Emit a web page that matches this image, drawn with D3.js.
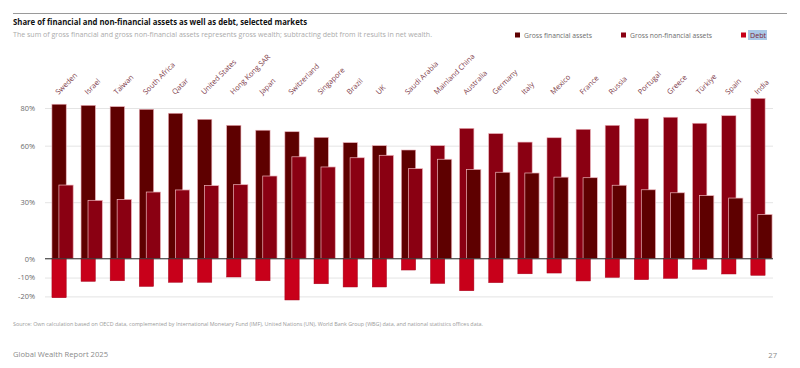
<!DOCTYPE html>
<html>
<head>
<meta charset="utf-8">
<script src="https://cdn.jsdelivr.net/npm/d3@7"></script>
<style>
  html, body { margin: 0; padding: 0; background: #fff; }
  svg { display: block; font-family: "Open Sans", "Noto Sans", sans-serif; }
</style>
</head>
<body>
<svg id="chart" width="800" height="368"></svg>
<script>
// ---- Data (shares of net wealth, %) ----
const categories = ["Sweden","Israel","Taiwan","South Africa","Qatar","United States","Hong Kong SAR","Japan","Switzerland","Singapore","Brazil","UK","Saudi Arabia","Mainland China","Australia","Germany","Italy","Mexico","France","Russia","Portugal","Greece","Türkiye","Spain","India"];
const financial = [82.0,81.4,80.7,79.3,77.2,74.0,70.8,68.2,67.4,64.4,61.6,60.0,57.7,52.8,47.4,45.9,45.5,43.3,43.0,39.0,36.6,35.0,33.5,32.2,23.5];
const nonFinancial = [39.1,31.0,31.5,35.4,36.5,38.8,39.3,43.9,54.1,48.7,53.6,54.9,47.8,60.0,69.2,66.4,61.9,64.2,68.7,70.8,74.3,75.1,71.9,75.9,85.1];
const debt = [-20.7,-12.0,-11.7,-14.7,-12.5,-12.5,-9.7,-11.7,-21.9,-13.3,-15.0,-15.0,-6.0,-13.1,-17.0,-12.7,-8.0,-7.6,-11.8,-9.9,-11.1,-10.4,-5.6,-8.1,-8.8];
const yTicks = [80, 60, 30, 0, -10, -20];
const seriesNames = ["Gross financial assets", "Gross non-financial assets", "Debt"];

// ---- Styles ----
const colFin = "#5e0000", colNon = "#8a0012", colDebt = "#c8001a";
const svg = d3.select("#chart");

// Header
svg.append("line").attr("x1", 13).attr("x2", 787).attr("y1", 13.5).attr("y2", 13.5)
  .attr("stroke", "#9a9a9a").attr("stroke-width", 1);
svg.append("text").attr("x", 13).attr("y", 25).attr("font-size", 8.6).attr("font-weight", 700)
  .attr("fill", "#111").attr("textLength", 294).attr("lengthAdjust", "spacingAndGlyphs")
  .text("Share of financial and non-financial assets as well as debt, selected markets");
svg.append("text").attr("x", 13).attr("y", 37).attr("font-size", 7.4)
  .attr("fill", "#ababab").attr("textLength", 419).attr("lengthAdjust", "spacingAndGlyphs")
  .text("The sum of gross financial and gross non-financial assets represents gross wealth; subtracting debt from it results in net wealth.");

// Legend
const legendX = [515, 621, 741], legendW = [68, 82, 16], legendCols = [colFin, colNon, colDebt];
// selection highlight behind "Debt" (as in reference)
svg.append("rect").attr("x", 748).attr("y", 30).attr("width", 19).attr("height", 10).attr("fill", "#aac8e6");
seriesNames.forEach((n, i) => {
  svg.append("rect").attr("x", legendX[i]).attr("y", 32.5).attr("width", 5).attr("height", 5).attr("fill", legendCols[i]);
  svg.append("text").attr("x", legendX[i] + 9).attr("y", 38).attr("font-size", 7.2)
    .attr("fill", i === 2 ? "#7a2636" : "#6e6e6e")
    .attr("textLength", legendW[i]).attr("lengthAdjust", "spacingAndGlyphs").text(n);
});

// Scales
const x = d3.scaleBand().domain(categories).range([48, 776]).paddingInner(0.27).paddingOuter(0.135);
const y = d3.scaleLinear().domain([-20, 80]).range([296.4, 108]);
const bw = x.bandwidth();
const barW = bw * 0.672, offset = bw - barW;

// Y axis with gridlines
const gridLeft = 45, gridRight = 773;
const yAxis = svg.append("g").attr("transform", `translate(${gridLeft},0)`)
  .call(d3.axisLeft(y).tickValues(yTicks).tickFormat(d => d + "%")
    .tickSize(-(gridRight - gridLeft)).tickPadding(10));
yAxis.select(".domain").remove();
yAxis.selectAll(".tick line").attr("stroke", "#e4e4e4").attr("stroke-width", 1);
yAxis.selectAll(".tick text").attr("fill", "#6a6a6a").attr("font-size", 7.4)
  .attr("font-family", "'Open Sans', 'Noto Sans', sans-serif");

// Bars
const data = categories.map((c, i) => ({ c, fin: financial[i], non: nonFinancial[i], debt: debt[i] }));
const g = svg.append("g");
data.forEach(d => {
  const big = d.fin >= d.non ? { v: d.fin, col: colFin } : { v: d.non, col: colNon };
  const small = d.fin >= d.non ? { v: d.non, col: colNon } : { v: d.fin, col: colFin };
  const x0 = x(d.c);
  g.append("rect").attr("x", x0).attr("y", y(big.v)).attr("width", barW).attr("height", y(0) - y(big.v))
    .attr("fill", big.col).attr("stroke", "#e8aab3").attr("stroke-width", 0.6);
  g.append("rect").attr("x", x0 + offset).attr("y", y(small.v)).attr("width", barW).attr("height", y(0) - y(small.v))
    .attr("fill", small.col).attr("stroke", "#eeb4bc").attr("stroke-width", 0.7);
  g.append("rect").attr("x", x0).attr("y", y(0)).attr("width", barW).attr("height", y(d.debt) - y(0))
    .attr("fill", colDebt).attr("stroke", "#a8001a").attr("stroke-width", 0.5);
});

// Zero line
svg.append("line").attr("x1", gridLeft).attr("x2", gridRight).attr("y1", y(0)).attr("y2", y(0))
  .attr("stroke", "#333").attr("stroke-width", 1);

// Category labels (rotated)
const lab = svg.append("g");
categories.forEach(c => {
  const cx = x(c) + bw / 2 - 4;
  lab.append("text").attr("transform", `translate(${cx},95) rotate(-45)`)
    .attr("font-size", 7.4).attr("fill", "#7d3a48").text(c);
});

// Footer
svg.append("text").attr("x", 13).attr("y", 326).attr("font-size", 5.6).attr("fill", "#9a9a9a")
  .attr("textLength", 470).attr("lengthAdjust", "spacingAndGlyphs")
  .text("Source: Own calculation based on OECD data, complemented by International Monetary Fund (IMF), United Nations (UN), World Bank Group (WBG) data, and national statistics offices data.");
svg.append("text").attr("x", 13).attr("y", 357).attr("font-size", 8).attr("fill", "#8a8a8a")
  .attr("textLength", 95).attr("lengthAdjust", "spacingAndGlyphs").text("Global Wealth Report 2025");
svg.append("text").attr("x", 777).attr("y", 358).attr("font-size", 7.6).attr("fill", "#8a8a8a")
  .attr("text-anchor", "end").text("27");
</script>
</body>
</html>
